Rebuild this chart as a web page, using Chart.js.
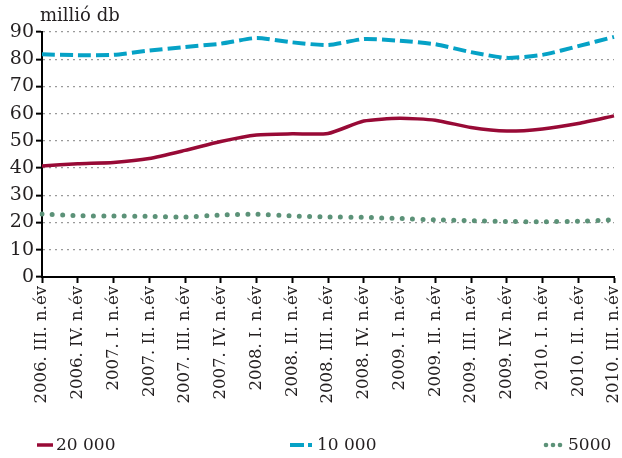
<!DOCTYPE html>
<html>
<head>
<meta charset="utf-8">
<script src="https://cdn.jsdelivr.net/npm/chart.js@4.4.1/dist/chart.umd.min.js"></script>
<style>
html, body { margin: 0; padding: 0; background: #fff; }
#wrap { width: 622px; height: 458px; }
</style>
</head>
<body>
<div id="wrap"><canvas id="chart"></canvas></div>
<script>
var quarters = [
    "2006. III. n.év", "2006. IV. n.év", "2007. I. n.év", "2007. II. n.év",
    "2007. III. n.év", "2007. IV. n.év", "2008. I. n.év", "2008. II. n.év",
    "2008. III. n.év", "2008. IV. n.év", "2009. I. n.év", "2009. II. n.év",
    "2009. III. n.év", "2009. IV. n.év", "2010. I. n.év", "2010. II. n.év",
    "2010. III. n.év"
];
var seriesNames = ["20 000", "10 000", "5000"];
var notes20000 = [40.8, 41.6, 42.1, 43.5, 46.5, 49.8, 52.2, 52.6, 52.7, 57.3, 58.3, 57.6, 54.9, 53.6, 54.4, 56.4, 59.2];
var notes10000 = [81.8, 81.5, 81.6, 83.2, 84.5, 85.7, 87.8, 86.2, 85.2, 87.4, 86.8, 85.5, 82.6, 80.5, 81.6, 84.8, 88.2];
var notes5000 = [23.1, 22.5, 22.4, 22.3, 22.0, 22.8, 23.1, 22.4, 22.1, 21.9, 21.5, 21.0, 20.7, 20.4, 20.3, 20.5, 21.0];
var yTitle = "millió db";

var textColor = "#231f20";
var serif = "'DejaVu Serif', 'Liberation Serif', serif";

// legend and unit label drawn by hand, items spread across the bottom
var bottomLegend = {
    id: "bottomLegend",
    afterDraw: function (chart) {
        const ctx = chart.ctx;
        const y = 445;
        const starts = [37, 290, 543];
        ctx.save();
        ctx.font = "18px " + serif;
        ctx.fillStyle = textColor;
        ctx.textBaseline = "middle";
        ctx.fillText(yTitle, 40, 16);

        ctx.font = "17px " + serif;
        chart.data.datasets.forEach((ds, i) => {
            const x = starts[i];
            ctx.strokeStyle = ds.borderColor;
            ctx.fillStyle = ds.borderColor;
            if (i === 0) {
                ctx.lineWidth = 3.5;
                ctx.beginPath(); ctx.moveTo(x, y); ctx.lineTo(x + 16, y); ctx.stroke();
            } else if (i === 1) {
                ctx.lineWidth = 4;
                ctx.beginPath(); ctx.moveTo(x, y); ctx.lineTo(x + 14, y); ctx.stroke();
                ctx.beginPath(); ctx.moveTo(x + 18, y); ctx.lineTo(x + 22, y); ctx.stroke();
            } else {
                for (let k = 0; k < 3; k++) {
                    ctx.beginPath(); ctx.arc(x + 3 + k * 7, y, 2.3, 0, Math.PI * 2); ctx.fill();
                }
            }
            ctx.fillStyle = textColor;
            const tx = i === 1 ? x + 27 : (i === 0 ? x + 19 : x + 25);
            ctx.fillText(ds.label, tx, y + 1);
        });
        ctx.restore();
    }
};

var chart = new Chart(document.getElementById("chart"), {
    type: "line",
    data: {
        labels: quarters,
        datasets: [
            {
                label: seriesNames[0],
                data: notes20000,
                borderColor: "#980a36",
                borderWidth: 3.5,
                pointRadius: 0,
                tension: 0.2
            },
            {
                label: seriesNames[1],
                data: notes10000,
                borderColor: "#06a2c6",
                borderWidth: 4,
                borderDash: [13, 5],
                pointRadius: 0,
                tension: 0.2
            },
            {
                label: seriesNames[2],
                data: notes5000,
                borderColor: "#5c9278",
                borderWidth: 5,
                borderDash: [0, 10.3],
                borderCapStyle: "round",
                pointRadius: 0,
                tension: 0.2
            }
        ]
    },
    options: {
        responsive: true,
        maintainAspectRatio: false,
        animation: false,
        layout: {
            padding: { top: 32, right: 8, bottom: 38, left: 0 }
        },
        plugins: {
            legend: { display: false },
            tooltip: { enabled: false }
        },
        scales: {
            x: {
                offset: false,
                afterFit: function (scale) {
                    scale.height = 143;
                    scale.paddingLeft = 0;
                    scale.paddingRight = 0;
                },
                grid: {
                    drawOnChartArea: false,
                    tickColor: "#000",
                    tickWidth: 2,
                    tickLength: 6
                },
                border: { color: "#000", width: 2 },
                ticks: {
                    autoSkip: false,
                    maxRotation: 90,
                    minRotation: 90,
                    padding: 3,
                    color: textColor,
                    font: { family: serif, size: 16.5 }
                }
            },
            y: {
                min: 0,
                max: 90,
                afterFit: function (scale) { scale.width = 42; },
                grid: {
                    color: "#9a9a9a",
                    lineWidth: 1.3,
                    tickColor: "#000",
                    tickWidth: 2,
                    tickLength: 6,
                    tickBorderDash: []
                },
                border: { color: "#000", width: 2, dash: [2, 4] },
                ticks: {
                    stepSize: 10,
                    padding: 2,
                    color: textColor,
                    font: { family: serif, size: 19 }
                }
            }
        }
    },
    plugins: [bottomLegend]
});
</script>
</body>
</html>
